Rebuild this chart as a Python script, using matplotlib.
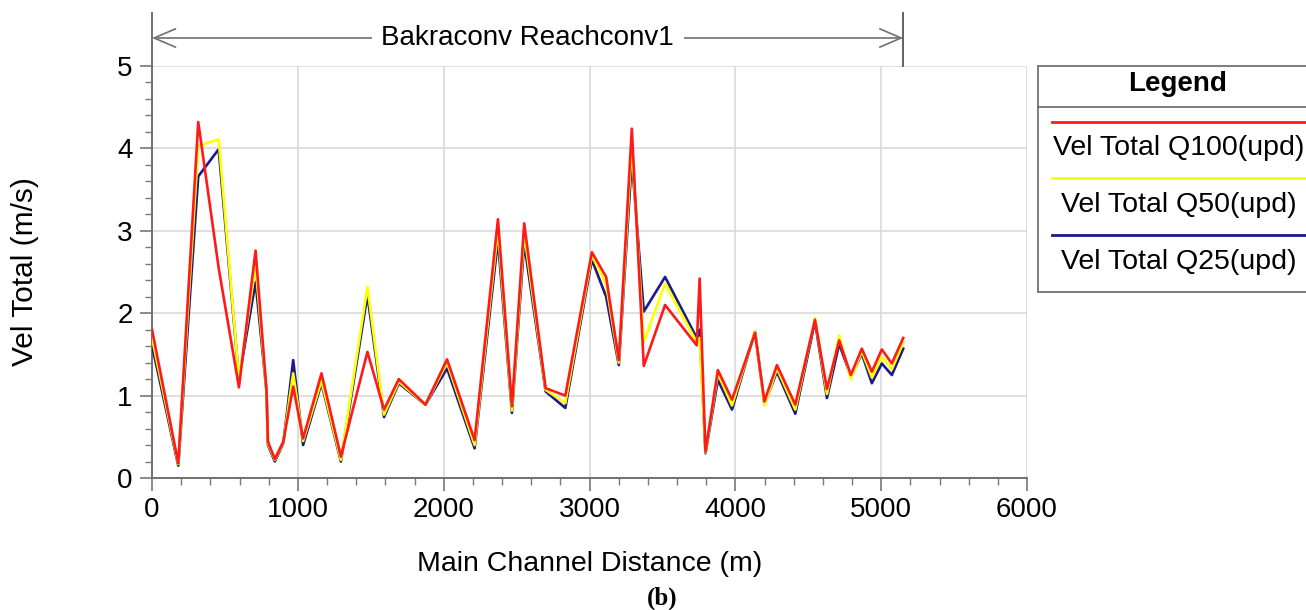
import matplotlib.pyplot as plt
from matplotlib.lines import Line2D
from matplotlib.patches import Rectangle
from matplotlib.ticker import MultipleLocator

# --- Profile data (main channel stations, m) ---
station = [0, 180, 317, 457, 596, 710, 785, 795, 842, 900, 968, 1036, 1162,
           1295, 1477, 1591, 1692, 1875, 2023, 2212, 2372, 2468, 2552, 2699,
           2834, 3016, 3114, 3201, 3290, 3372, 3518, 3735, 3755, 3795, 3880,
           3977, 4135, 4199, 4285, 4411, 4546, 4628, 4712, 4792, 4867, 4936,
           5004, 5073, 5151]

vel_q100 = [1.80, 0.18, 4.32, 2.55, 1.10, 2.76, 1.07, 0.44, 0.23, 0.44, 1.11,
            0.48, 1.27, 0.26, 1.53, 0.83, 1.20, 0.89, 1.44, 0.46, 3.14, 0.87,
            3.09, 1.09, 1.00, 2.74, 2.44, 1.43, 4.24, 1.36, 2.10, 1.61, 2.42,
            0.32, 1.31, 0.95, 1.76, 0.93, 1.37, 0.89, 1.92, 1.08, 1.67, 1.25,
            1.57, 1.29, 1.56, 1.39, 1.70]

vel_q50 = [1.70, 0.17, 4.03, 4.11, 1.20, 2.58, 1.05, 0.42, 0.22, 0.43, 1.27,
           0.45, 1.18, 0.22, 2.32, 0.77, 1.17, 0.89, 1.40, 0.40, 3.02, 0.82,
           2.97, 1.07, 0.91, 2.70, 2.35, 1.40, 4.05, 1.65, 2.36, 1.65, 1.70,
           0.31, 1.27, 0.88, 1.78, 0.88, 1.33, 0.83, 1.94, 1.02, 1.73, 1.20,
           1.54, 1.22, 1.47, 1.32, 1.64]

vel_q25 = [1.61, 0.15, 3.66, 3.99, 1.20, 2.38, 1.05, 0.40, 0.20, 0.42, 1.43,
           0.40, 1.15, 0.20, 2.22, 0.74, 1.15, 0.89, 1.33, 0.36, 2.89, 0.79,
           2.85, 1.05, 0.85, 2.65, 2.20, 1.37, 3.86, 2.02, 2.44, 1.70, 1.80,
           0.30, 1.19, 0.83, 1.78, 0.90, 1.29, 0.78, 1.90, 0.97, 1.63, 1.23,
           1.51, 1.15, 1.39, 1.25, 1.57]

series_labels = ['Vel Total Q100(upd)', 'Vel Total Q50(upd)', 'Vel Total Q25(upd)']
series_colors = ['#FF1A1A', '#FFFF00', '#1A1A8C']
reach_name = 'Bakraconv Reachconv1'
reach_end = 5151

plt.rcParams['font.family'] = ['Liberation Sans', 'DejaVu Sans']

fig = plt.figure(figsize=(13.06, 6.10), dpi=100)
ax = fig.add_axes([0.1164, 0.2164, 0.67, 0.6754])

# --- Lines (Q25 underneath, Q100 on top) ---
for vals, col in zip([vel_q25, vel_q50, vel_q100], series_colors[::-1]):
    ax.plot(station, vals, color=col, linewidth=1.9, zorder=3)

ax.set_xlim(0, 6000)
ax.set_ylim(0, 5)
ax.xaxis.set_major_locator(MultipleLocator(1000))
ax.xaxis.set_minor_locator(MultipleLocator(200))
ax.yaxis.set_major_locator(MultipleLocator(1))
ax.yaxis.set_minor_locator(MultipleLocator(0.2))
ax.grid(True, which='major', color='#D9D9D9', linewidth=1.2)
ax.tick_params(which='major', length=9, width=1.2, color='#777777',
               labelsize=20, pad=5)
ax.tick_params(which='minor', length=5, width=1.0, color='#777777')

for side in ['top', 'right']:
    ax.spines[side].set_visible(False)
for side in ['left', 'bottom']:
    ax.spines[side].set_color('#707070')
    ax.spines[side].set_linewidth(1.4)

ax.set_xlabel('Main Channel Distance (m)', fontsize=20.5, labelpad=20)
ax.set_ylabel('Vel Total (m/s)', fontsize=21.5, labelpad=56)

# --- Reach bracket above the plot ---
top_y = 5.64
ax.plot([0, 0], [5, top_y], color='#707070', linewidth=1.4, clip_on=False)
ax.plot([reach_end, reach_end], [5, top_y], color='#555555', linewidth=1.3,
        clip_on=False)
ax.annotate('', xy=(0, 5.34), xytext=(reach_end, 5.34),
            arrowprops=dict(arrowstyle='<->,head_length=0.7,head_width=0.3',
                            color='#707070', lw=1.2,
                            mutation_scale=22, shrinkA=0, shrinkB=0),
            annotation_clip=False)
ax.text(reach_end / 2, 5.34, reach_name, ha='center', va='center',
        fontsize=20, bbox=dict(facecolor='white', edgecolor='none', pad=7),
        clip_on=False)

# --- Legend box on the right ---
W, H = 1306, 610
def fx(px):
    return px / W
def fy(py):
    return 1 - py / H

box_left, box_top, box_bottom = 1038, 66, 292
fig.patches.append(Rectangle((fx(box_left), fy(box_bottom)),
                             fx(W + 20 - box_left), fy(box_top) - fy(box_bottom),
                             transform=fig.transFigure, facecolor='white',
                             edgecolor='#666666', linewidth=1.2))
fig.lines.append(Line2D([fx(box_left), fx(W)], [fy(107), fy(107)],
                        transform=fig.transFigure, color='#666666', linewidth=1.2))
fig.text(fx(1178), fy(84), 'Legend', ha='center', va='center',
         fontsize=20, fontweight='bold')
line_rows = [122, 178, 235]
text_rows = [148, 205, 262]
for lbl, col, ly, ty in zip(series_labels, series_colors, line_rows, text_rows):
    fig.lines.append(Line2D([fx(1052), fx(W)], [fy(ly), fy(ly)],
                            transform=fig.transFigure, color=col, linewidth=2))
    fig.text(fx(1179), fy(ty), lbl, ha='center', va='center', fontsize=20.5)

fig.text(fx(662), fy(598), '(b)', ha='center', va='center', fontsize=18,
         fontweight='bold', family=['Liberation Serif', 'DejaVu Serif'])

plt.savefig('out.png', dpi=100)
